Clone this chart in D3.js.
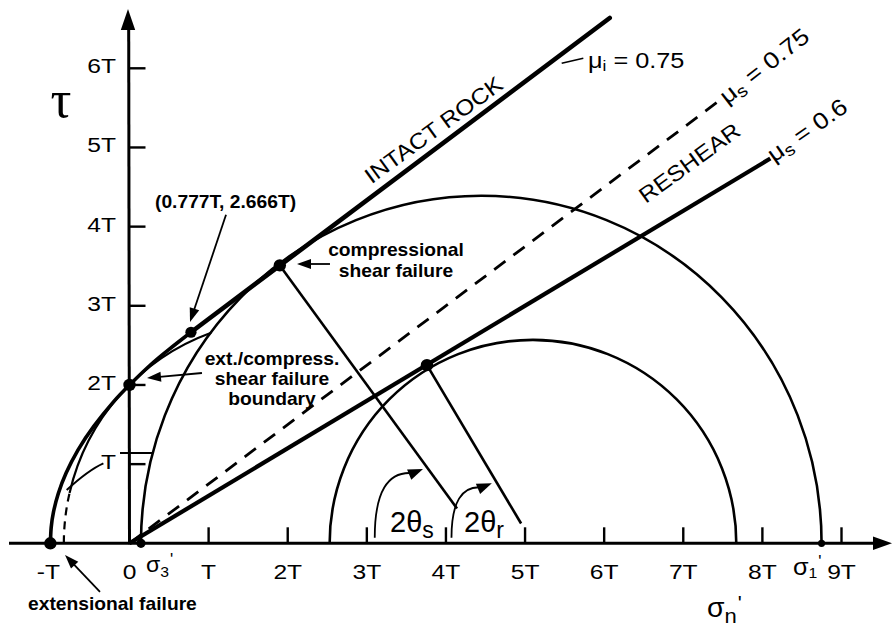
<!DOCTYPE html>
<html>
<head>
<meta charset="utf-8">
<script src="https://cdn.jsdelivr.net/npm/d3@7"></script>
<style>
  html, body { margin: 0; padding: 0; background: #fff; }
  svg { display: block; }
</style>
</head>
<body>
<script>
// Mohr diagram: Griffith–Coulomb envelope for intact rock, reshear lines and two Mohr circles.
// All stresses are in units of the tensile strength T.

const W = 892, H = 628;

// ---- axis ticks ----
const sigmaTicks = [1, 2, 3, 4, 5, 6, 7, 8, 9];
const sigmaTickValues = [-1, 0, 1, 2, 3, 4, 5, 6, 7, 8, 9];
const sigmaTickLabels = ["-T", "0", "T", "2T", "3T", "4T", "5T", "6T", "7T", "8T", "9T"];
const tauTicks = [1, 2, 3, 4, 5, 6];
const tauTickLabels = ["T", "2T", "3T", "4T", "5T", "6T"];

// ---- Griffith parabola (tensile / hybrid part of the intact-rock envelope) ----
const griffithSigma = [-1, -0.99, -0.96, -0.9, -0.8, -0.65, -0.45, -0.2, 0, 0.25, 0.5, 0.777];
const griffithTau   = [0, 0.2, 0.4, 0.63, 0.89, 1.18, 1.48, 1.79, 2.0, 2.24, 2.45, 2.666];

// ---- straight failure lines ----
// intact rock: tangent to the parabola at (0.777T, 2.666T)
const intactMu = 0.75, intactSigma0 = 0.777, intactTau0 = 2.666, intactSigmaEnd = 6.07;
// reshear lines through the origin (cohesionless)
const reshearMu = [0.75, 0.6];
const reshearSigmaEnd = [7.46, 8.1];
const reshearDashed = [true, false];

// ---- Mohr circles (σ3', σ1', peak shear) ----
const circleSigma3 = [0.145, 2.53];
const circleSigma1 = [8.748, 7.67];
const circleTauTop = [4.39, 2.57];

// circle touching the parabola at (0, 2T)
const hybridSigma3 = -0.83, hybridSigma1 = 4.83;
const hybridDashedDeg = [180, 167];
const hybridSolidDeg = [167, 110];

// ---- radii from contact points towards circle centres (2θ) ----
const radiusFromSigma = [1.90, 3.76], radiusFromTau = [3.51, 2.25];
const radiusToSigma = [4.14, 4.95], radiusToTau = [0.44, 0.25];

// ---- marked points ----
const pointSigma = [-1, 0, 0.777, 1.90, 3.76, 0.145, 8.748];
const pointTau   = [0, 2, 2.666, 3.51, 2.25, 0, 0];
const pointKind  = ["failure", "failure", "tangent", "failure", "failure", "stress", "stress1"];

// ---- 2θ angle arrows (start, control, end) ----
const angleSub = ["s", "r"];
const angleFrom = [[3.10, 0.07], [4.07, 0.07]];
const angleCtrl = [[3.10, 0.93], [4.07, 0.74]];
const angleTo   = [[3.71, 0.94], [4.58, 0.76]];

// ---- annotation arrows (from, to) ----
const noteFrom = [[1.22, 4.149], [2.534, 3.528], [0.916, 2.151], [-0.373, -0.615]];
const noteTo   = [[0.765, 2.795], [2.117, 3.528], [0.221, 2.088], [-0.815, -0.148]];

// ---------------------------------------------------------------

const svg = d3.select("body").append("svg")
  .attr("width", W).attr("height", H)
  .attr("viewBox", `0 0 ${W} ${H}`);

const x = d3.scaleLinear().domain([0, 9]).range([129.5, 841.5]);
const y = d3.scaleLinear().domain([0, 6]).range([543.3, 68.3]);
const kx = x(1) - x(0), ky = y(0) - y(1);

const ink = "#000";
const SANS = "'Liberation Sans', Arial, Helvetica, sans-serif";

function arrowHead(g, tx, ty, dx, dy, len = 13, half = 4.6) {
  const L = Math.hypot(dx, dy), ux = dx / L, uy = dy / L;
  const bx = tx - ux * len, by = ty - uy * len;
  g.append("path")
    .attr("d", `M${tx},${ty} L${bx - uy * half},${by + ux * half} L${bx + uy * half},${by - ux * half} Z`)
    .attr("fill", ink);
}

function text(parent, px, py, parts, o = {}) {
  const t = parent.append("text")
    .attr("transform", `translate(${px},${py}) rotate(${o.rot || 0}) scale(${o.sx || 1},1)`)
    .attr("text-anchor", o.anchor || "start")
    .attr("font-family", o.family || SANS)
    .attr("font-size", o.size || 20)
    .attr("font-weight", o.weight || "normal")
    .attr("fill", ink);
  parts.forEach(p => {
    const s = t.append("tspan").text(p.t);
    if (p.size) s.attr("font-size", p.size);
    if (p.dy) s.attr("dy", p.dy);
    if (p.dx) s.attr("dx", p.dx);
    if (p.family) s.attr("font-family", p.family);
  });
  return t;
}

// ---- axes ----
const axes = svg.append("g");
axes.append("line")
  .attr("x1", 9).attr("y1", y(0)).attr("x2", 876).attr("y2", y(0))
  .attr("stroke", ink).attr("stroke-width", 3);
arrowHead(axes, 892, y(0), 1, 0, 19, 6.8);
axes.append("line")
  .attr("x1", x(0)).attr("y1", y(0) + 1).attr("x2", x(0) - 0.8).attr("y2", 28)
  .attr("stroke", ink).attr("stroke-width", 3);
arrowHead(axes, x(0) - 1.5, 9, 0, -1, 21, 7.2);

axes.selectAll("line.xt").data(sigmaTicks).join("line")
  .attr("x1", d => x(d)).attr("x2", d => x(d))
  .attr("y1", y(0)).attr("y2", y(0) - 16)
  .attr("stroke", ink).attr("stroke-width", 2.4);
axes.selectAll("line.yt").data(tauTicks).join("line")
  .attr("x1", x(0)).attr("x2", x(0) + 16)
  .attr("y1", d => y(d)).attr("y2", d => y(d))
  .attr("stroke", ink).attr("stroke-width", 2.4);

sigmaTickValues.forEach((v, i) => {
  text(axes, x(v) - (v < 0 ? 2 : 0), 579, [{ t: sigmaTickLabels[i] }], { anchor: "middle", size: 20.5, sx: 1.2 });
});
tauTicks.forEach((v, i) => {
  text(axes, 116, y(v) + 5, [{ t: tauTickLabels[i] }], { anchor: "end", size: 20.5, sx: 1.2 });
});

// principal stress labels on the σ axis
text(axes, 146, 572, [
  { t: "σ", size: 22 }, { t: "3", size: 15, dy: 5 }, { t: "'", size: 16, dy: -12, dx: 1 }
], { sx: 1.05 });
text(axes, 793, 575, [
  { t: "σ", size: 24 }, { t: "1", size: 15, dy: 3 }, { t: "'", size: 16, dy: -11, dx: 1 }
], { sx: 1.05 });

// axis titles
text(axes, 61, 117, [{ t: "τ" }], { anchor: "middle", size: 52, family: "'Liberation Serif', 'DejaVu Serif', 'Times New Roman', serif" });
text(axes, 707, 617, [
  { t: "σ", size: 27 }, { t: "n", size: 21, dy: 6 }, { t: "'", size: 20, dy: -13, dx: 1 }
], { sx: 1.05 });

// ---- Mohr circles ----
const circles = svg.append("g").attr("fill", "none").attr("stroke", ink).attr("stroke-width", 2.6);
circleSigma3.forEach((s3, i) => {
  const s1 = circleSigma1[i];
  const rx = (x(s1) - x(s3)) / 2, ry = y(0) - y(circleTauTop[i]);
  circles.append("path")
    .attr("d", `M${x(s3)},${y(0)} A${rx},${ry} 0 0 1 ${x(s1)},${y(0)}`);
});

// circle tangent to the parabola at (0, 2T): dashed near the axis, solid above
{
  const c = (hybridSigma3 + hybridSigma1) / 2, r = (hybridSigma1 - hybridSigma3) / 2;
  const pt = deg => [x(c + r * Math.cos(deg * Math.PI / 180)), y(r * Math.sin(deg * Math.PI / 180))];
  const rx = r * kx, ry = r * ky;
  const seg = (a, b) => { const p = pt(a), q = pt(b); return `M${p[0]},${p[1]} A${rx},${ry} 0 0 1 ${q[0]},${q[1]}`; };
  circles.append("path").attr("d", seg(hybridDashedDeg[0], hybridDashedDeg[1]))
    .attr("stroke-width", 2.2).attr("stroke-dasharray", "8,6");
  circles.append("path").attr("d", seg(hybridSolidDeg[0], hybridSolidDeg[1]))
    .attr("stroke-width", 2.2);
}

// ---- radius lines (2θ) ----
const radii = svg.append("g").attr("stroke", ink).attr("stroke-width", 2.6);
radiusFromSigma.forEach((s, i) => {
  radii.append("line")
    .attr("x1", x(s)).attr("y1", y(radiusFromTau[i]))
    .attr("x2", x(radiusToSigma[i])).attr("y2", y(radiusToTau[i]));
});

// ---- failure envelopes ----
const env = svg.append("g").attr("fill", "none").attr("stroke", ink);

env.append("path")
  .datum(griffithSigma.map((s, i) => [s, griffithTau[i]]))
  .attr("d", d3.line().x(d => x(d[0])).y(d => y(d[1])).curve(d3.curveNatural))
  .attr("stroke-width", 3.6);

env.append("line")
  .attr("x1", x(intactSigma0)).attr("y1", y(intactTau0))
  .attr("x2", x(intactSigmaEnd)).attr("y2", y(intactTau0 + intactMu * (intactSigmaEnd - intactSigma0)))
  .attr("stroke-width", 4.6).attr("stroke-linecap", "round");

reshearMu.forEach((mu, i) => {
  env.append("line")
    .attr("x1", x(0)).attr("y1", y(0))
    .attr("x2", x(reshearSigmaEnd[i])).attr("y2", y(mu * reshearSigmaEnd[i]))
    .attr("stroke-width", reshearDashed[i] ? 2.8 : 4.2)
    .attr("stroke-dasharray", reshearDashed[i] ? "14,10" : null);
});

// ---- angle arrows 2θs, 2θr ----
const ang = svg.append("g");
angleFrom.forEach((a, i) => {
  const p0 = [x(a[0]), y(a[1])], pc = [x(angleCtrl[i][0]), y(angleCtrl[i][1])], p1 = [x(angleTo[i][0]), y(angleTo[i][1])];
  // arrow heads point along the end tangent, tilted slightly upwards
  const dx = 1, dy = -0.42;
  const back = 11, L = Math.hypot(dx, dy);
  const e = [p1[0] - dx / L * back, p1[1] - dy / L * back];
  ang.append("path")
    .attr("d", `M${p0[0]},${p0[1]} Q${pc[0]},${pc[1]} ${e[0]},${e[1]}`)
    .attr("fill", "none").attr("stroke", ink).attr("stroke-width", 1.8);
  arrowHead(ang, p1[0], p1[1], dx, dy, 15, 5.5);
});
text(ang, 390, 531.5, [{ t: "2θ", size: 29 }, { t: angleSub[0], size: 23, dy: 6 }]);
text(ang, 464, 531.5, [{ t: "2θ", size: 29 }, { t: angleSub[1], size: 23, dy: 6 }]);

// ---- points ----
const radiusOf = { failure: 6.2, tangent: 5.6, stress: 4.6, stress1: 3.6 };
svg.append("g").selectAll("circle").data(pointSigma).join("circle")
  .attr("cx", (d, i) => x(d)).attr("cy", (d, i) => y(pointTau[i]))
  .attr("r", (d, i) => radiusOf[pointKind[i]])
  .attr("fill", ink);

// ---- annotations ----
const notes = svg.append("g");
noteFrom.forEach((f, i) => {
  const a = [x(f[0]), y(f[1])], b = [x(noteTo[i][0]), y(noteTo[i][1])];
  const L = Math.hypot(b[0] - a[0], b[1] - a[1]);
  const e = [b[0] - (b[0] - a[0]) / L * 10, b[1] - (b[1] - a[1]) / L * 10];
  notes.append("line").attr("x1", a[0]).attr("y1", a[1]).attr("x2", e[0]).attr("y2", e[1])
    .attr("stroke", ink).attr("stroke-width", 1.8);
  arrowHead(notes, b[0], b[1], b[0] - a[0], b[1] - a[1], 14, 5);
});

const bold = { size: 18.5, weight: "bold", sx: 1.04 };
text(notes, 155, 208, [{ t: "(0.777T, 2.666T)" }], bold);
text(notes, 396, 256, [{ t: "compressional" }], { ...bold, anchor: "middle" });
text(notes, 396, 277, [{ t: "shear failure" }], { ...bold, anchor: "middle" });
text(notes, 272, 365, [{ t: "ext./compress." }], { ...bold, anchor: "middle" });
text(notes, 272, 385, [{ t: "shear failure" }], { ...bold, anchor: "middle" });
text(notes, 272, 405, [{ t: "boundary" }], { ...bold, anchor: "middle" });
text(notes, 28, 610, [{ t: "extensional failure" }], bold);

// "T" leaders near the τ axis
notes.append("path")
  .attr("d", `M${x(-0.794)},${y(0.673)} Q${x(-0.52)},${y(0.925)} ${x(-0.33)},${y(1.01)}`)
  .attr("fill", "none").attr("stroke", ink).attr("stroke-width", 2);
notes.append("line")
  .attr("x1", x(-0.12)).attr("y1", y(1.14)).attr("x2", x(0.29)).attr("y2", y(1.14))
  .attr("stroke", ink).attr("stroke-width", 2);

// friction labels
const reg = { size: 22, sx: 1.15 };
notes.append("line").attr("x1", 561.7).attr("y1", 63.3).attr("x2", 583.3).attr("y2", 58.3)
  .attr("stroke", ink).attr("stroke-width", 1.6);
text(notes, 588, 68, [{ t: "μ" }, { t: "i", size: 15, dy: 3 }, { t: " = 0.75", dy: -3 }], reg);
text(notes, 727, 105, [{ t: "μ" }, { t: "s", size: 17, dy: 4 }, { t: " = 0.75", dy: -4 }], { ...reg, size: 23, rot: -38 });
text(notes, 774, 163, [{ t: "μ" }, { t: "s", size: 17, dy: 4 }, { t: " = 0.6", dy: -4 }], { ...reg, size: 23, rot: -35 });

text(notes, 438, 136, [{ t: "INTACT ROCK" }], { size: 22, sx: 1.12, rot: -36, anchor: "middle" });
text(notes, 694, 169, [{ t: "RESHEAR" }], { size: 22, sx: 1.12, rot: -36, anchor: "middle" });
</script>
</body>
</html>
